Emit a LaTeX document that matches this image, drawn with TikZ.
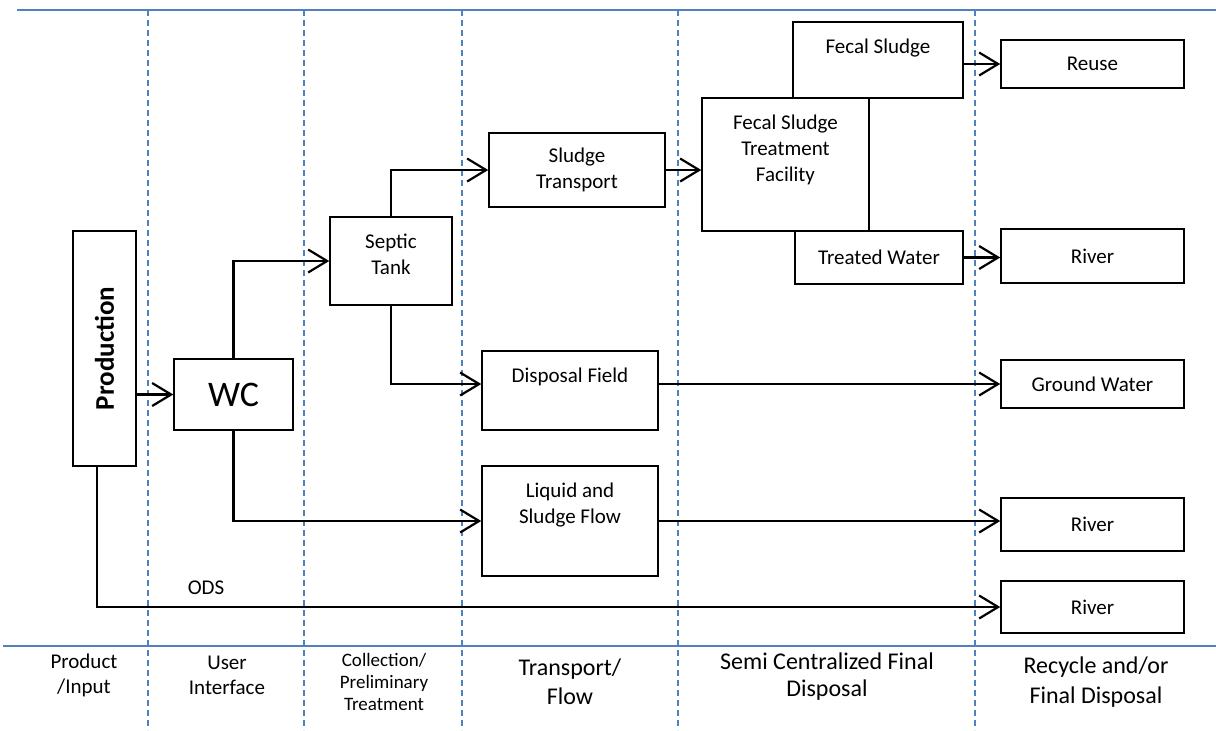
\documentclass[tikz,border=0pt]{standalone}
\usepackage{fontspec}
\setmainfont{Carlito}
\usepackage{xcolor}
\usepackage{tikz}
\usetikzlibrary{arrows.meta,positioning}

\definecolor{laneblue}{RGB}{79,129,189}

\tikzset{
	box/.style={draw=black,line width=0.75pt,inner sep=0pt,font=\fontsize{10.5}{13}\selectfont,align=center},
	toptxt/.style={inner sep=0pt,font=\fontsize{10.5}{13}\selectfont,align=center},
	flow/.style={line width=1.1pt,-{Straight Barb[length=9.5pt,width=11.5pt,line width=1.1pt]}},
	lane/.style={laneblue,line width=0.75pt,dash pattern=on 3pt off 2pt},
	border/.style={laneblue,line width=0.75pt},
	colname/.style={align=center,inner sep=0pt}
}

\begin{document}
\begin{tikzpicture}[x=0.5pt,y=-0.5pt]
		\useasboundingbox (0,0) rectangle (1216,730);
		% frame lines and lanes
		\draw[border] (17,10) -- (1216,10);
		\draw[border] (3,646) -- (1216,646);
		\foreach \lx in {148,304,462,678,975}
			\draw[lane] (\lx,10) -- (\lx,730);

		% boxes
		\node[box,minimum width=31.5pt,minimum height=117.5pt] (prod) at (104.5,348.5) {\rotatebox{90}{\fontsize{13.5}{15}\selectfont\bfseries Production}};
		\node[box,minimum width=59.5pt,minimum height=35.5pt,font=\fontsize{18}{20}\selectfont] (wc) at (233.5,394.5) {WC};
		\node[box,minimum width=61pt,minimum height=44pt] (septic) at (391,261) {};
		\node[toptxt,below=8.5pt of septic.north] (septictxt) {Septic\\Tank};
		\node[box,minimum width=88pt,minimum height=37pt] (trans) at (577,170) {Sludge\\Transport};
		\node[box,minimum width=88pt,minimum height=39.5pt] (disp) at (570,390.5) {};
		\node[toptxt,below=8.5pt of disp.north] (disptxt) {Disposal Field};
		\node[box,minimum width=88pt,minimum height=55pt] (liquid) at (570,521) {};
		\node[toptxt,below=8.5pt of liquid.north] (liquidtxt) {Liquid and\\Sludge Flow};
		\node[box,minimum width=85pt,minimum height=38pt] (fecal) at (878,60) {};
		\node[toptxt,below=8.5pt of fecal.north] (fecaltxt) {Fecal Sludge};
		\node[box,minimum width=83.5pt,minimum height=66.5pt] (fstf) at (785.5,164.5) {};
		\node[toptxt,below=8.5pt of fstf.north] (fstftxt) {Fecal Sludge\\Treatment\\Facility};
		\node[box,minimum width=84pt,minimum height=26.5pt] (treated) at (879,257.5) {Treated Water};
		\node[box,minimum width=91.5pt,minimum height=24pt] (reuse) at (1092.5,64) {Reuse};
		\node[box,minimum width=91.5pt,minimum height=27pt] (rivera) at (1092.5,256) {River};
		\node[box,minimum width=91.5pt,minimum height=24pt] (ground) at (1092.5,384) {Ground Water};
		\node[box,minimum width=91.5pt,minimum height=26.5pt] (riverb) at (1092.5,524.5) {River};
		\node[box,minimum width=91.5pt,minimum height=26pt] (riverc) at (1092.5,607) {River};

		% flows
		\draw[flow] (prod.east |- wc.west) -- (wc.west);
		\draw[flow] (wc.north) |- (septic.west);
		\draw[flow] (wc.south) |- (liquid.west);
		\draw[flow] (septic.north) |- (trans.west);
		\draw[flow] (septic.south) |- (disp.west |- ground.west);
		\draw[flow] (trans.east) -- (trans.east -| fstf.west);
		\draw[flow] (fecal.east |- reuse.west) -- (reuse.west);
		\draw[flow] (treated.east) -- (treated.east -| rivera.west);
		\draw[flow] (disp.east |- ground.west) -- (ground.west);
		\draw[flow] (liquid.east) -- (liquid.east -| riverb.west);
		\draw[flow] ([xshift=-3.75pt]prod.south) |- (riverc.west);
		\node[font=\fontsize{10.5}{13}\selectfont] (ods) at (206,588) {ODS};

		% lane names
		\node[colname,font=\fontsize{10.5}{12.5}\selectfont] (lanea) at (84,675) {Product\\/Input};
		\node[colname,font=\fontsize{10.5}{12.5}\selectfont] (laneb) at (227,675) {User\\Interface};
		\node[colname,font=\fontsize{9.5}{11}\selectfont] (lanec) at (384,682) {Collection/\\Preliminary\\Treatment};
		\node[colname,font=\fontsize{12}{14.5}\selectfont] (laned) at (570,682) {Transport/\\Flow};
		\node[colname,font=\fontsize{12}{13.5}\selectfont] (lanee) at (827,677) {Semi Centralized Final\\Disposal};
		\node[colname,font=\fontsize{12}{15}\selectfont] (lanef) at (1096,682) {Recycle and/or\\Final Disposal};
\end{tikzpicture}
\end{document}
